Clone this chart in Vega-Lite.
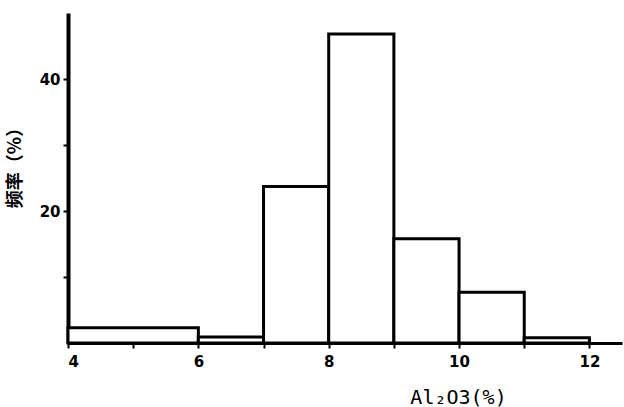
{
  "$schema": "https://vega.github.io/schema/vega-lite/v6.json",
  "autosize": "none",
  "padding": {"left": 68, "top": 13, "right": 2, "bottom": 64},
  "width": 554,
  "height": 330,
  "background": "white",
  "config": {"view": {"stroke": null}},
  "data": {
    "values": [
      {"start": 4, "end": 6, "freq": 2.3},
      {"start": 6, "end": 7, "freq": 0.9},
      {"start": 7, "end": 8, "freq": 23.7},
      {"start": 8, "end": 9, "freq": 46.8},
      {"start": 9, "end": 10, "freq": 15.8},
      {"start": 10, "end": 11, "freq": 7.7},
      {"start": 11, "end": 12, "freq": 0.8}
    ]
  },
  "mark": {"type": "bar", "fill": "white", "stroke": "black", "strokeWidth": 3},
  "encoding": {
    "x": {
      "field": "start", "type": "quantitative",
      "scale": {"domain": [4, 12.5], "nice": false, "zero": false},
      "axis": {
        "values": [4, 5, 6, 7, 8, 9, 10, 11, 12],
        "labelExpr": "datum.value % 2 == 0 ? datum.label : ''",
        "grid": false,
        "domainColor": "black", "domainWidth": 3,
        "tickColor": "black", "tickWidth": 2, "tickSize": 5,
        "labelFont": "DejaVu Sans", "labelFontWeight": "bold", "labelFontSize": 15,
        "labelColor": "black", "labelPadding": 6,
        "title": "Al₂O3(%)",
        "titleFont": "DejaVu Sans Mono", "titleFontSize": 20, "titleFontWeight": "normal",
        "titleColor": "black", "titleX": 390, "titleY": 54, "titleBaseline": "middle", "titleAnchor": "middle", "titleAlign": "center"
      }
    },
    "x2": {"field": "end"},
    "y": {
      "field": "freq", "type": "quantitative",
      "scale": {"domain": [0, 50], "nice": false},
      "axis": {
        "values": [10, 20, 30, 40],
        "labelExpr": "datum.value == 20 || datum.value == 40 ? datum.label : ''",
        "grid": false,
        "domainColor": "black", "domainWidth": 4,
        "tickColor": "black", "tickWidth": 2, "tickSize": 5,
        "labelFont": "DejaVu Sans", "labelFontWeight": "bold", "labelFontSize": 15,
        "labelColor": "black", "labelPadding": 3,
        "title": "频率（%）",
        "titleFont": "Noto Sans CJK SC", "titleFontSize": 18, "titleFontWeight": "bold",
        "titleColor": "black", "titleX": -53, "titleY": 150, "titleAngle": -90, "titleBaseline": "middle", "titleAlign": "center"
      }
    },
    "y2": {"datum": 0}
  }
}
